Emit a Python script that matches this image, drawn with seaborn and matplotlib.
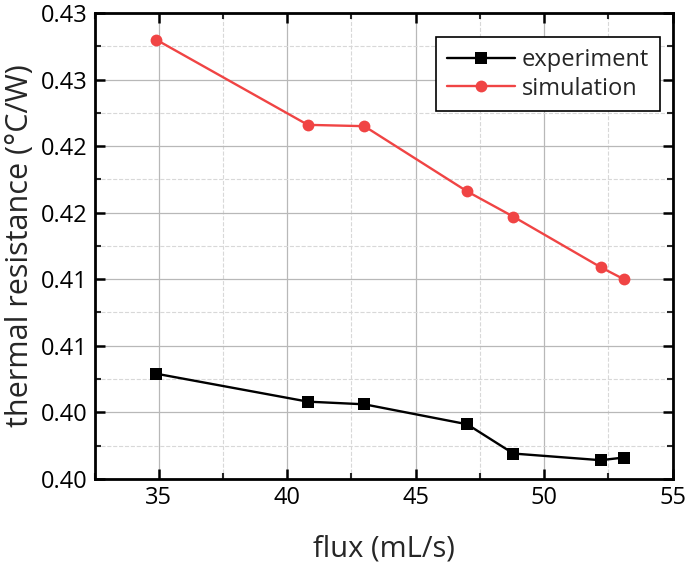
import matplotlib
matplotlib.use('Agg')
import matplotlib.pyplot as plt
import matplotlib.ticker as mticker
import seaborn as sns
import pandas as pd

# data
flux = [34.9, 40.8, 43.0, 47.0, 48.8, 52.2, 53.1]
experiment = [0.4079, 0.4058, 0.4056, 0.4041, 0.4019, 0.4014, 0.4016]
simulation = [0.4330, 0.4266, 0.4265, 0.4216, 0.4197, 0.4159, 0.4150]

y_ticks = [0.400, 0.405, 0.410, 0.415, 0.420, 0.425, 0.430, 0.435]
y_tick_labels = ['0.40', '0.40', '0.41', '0.41', '0.42', '0.42', '0.43', '0.43']
x_ticks = [35, 40, 45, 50, 55]

df = pd.DataFrame({
    'flux': flux * 2,
    'value': experiment + simulation,
    'series': ['experiment'] * len(flux) + ['simulation'] * len(flux),
})

sns.set_style('ticks')
plt.rcParams['font.family'] = ['Open Sans', 'DejaVu Sans']

fig = plt.figure(figsize=(6.85, 5.68), dpi=100)
ax = fig.add_axes([0.138, 0.157, 0.844, 0.820])

palette = {'experiment': '#000000', 'simulation': '#f04444'}
sns.lineplot(data=df, x='flux', y='value', hue='series', style='series',
             markers={'experiment': 's', 'simulation': 'o'},
             dashes=False, palette=palette, sort=False,
             markersize=8.5, markeredgewidth=0, linewidth=1.7, ax=ax)

ax.set_xlim(32.5, 55)
ax.set_ylim(0.400, 0.435)
ax.set_xticks(x_ticks)
ax.set_yticks(y_ticks)
ax.set_yticklabels(y_tick_labels)
ax.xaxis.set_minor_locator(mticker.AutoMinorLocator(2))
ax.yaxis.set_minor_locator(mticker.AutoMinorLocator(2))

ax.grid(which='major', color='#b8b8b8', linewidth=0.9, linestyle='-')
ax.grid(which='minor', color='#d8d8d8', linewidth=0.8, linestyle='--')
ax.set_axisbelow(True)

for s in ax.spines.values():
    s.set_linewidth(2)
    s.set_color('black')
ax.tick_params(which='major', direction='in', length=7, width=1.8,
               top=True, right=True, labelsize=17, pad=5, colors='black')
ax.tick_params(which='minor', direction='in', length=4, width=1.5,
               top=True, right=True)

ax.set_xlabel('flux (mL/s)', fontsize=21, labelpad=18)
ax.set_ylabel('thermal resistance (°C/W)', fontsize=22, labelpad=4)

leg = ax.legend(loc='upper right', bbox_to_anchor=(0.978, 0.948), fontsize=17,
                frameon=True, fancybox=False, edgecolor='black',
                handlelength=2.9, borderpad=0.45, labelspacing=0.2,
                handletextpad=0.3, borderaxespad=0)
leg.get_frame().set_linewidth(1.2)
leg.get_frame().set_alpha(1)

fig.savefig('out.png', dpi=100)
